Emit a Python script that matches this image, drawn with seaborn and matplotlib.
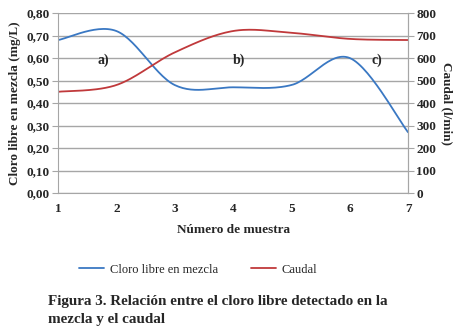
import numpy as np
import pandas as pd
import matplotlib
matplotlib.use("Agg")
import matplotlib.pyplot as plt
import seaborn as sns

# data
muestra = [1, 2, 3, 4, 5, 6, 7]
cloro = [0.68, 0.72, 0.48, 0.47, 0.48, 0.60, 0.27]
caudal = [450, 480, 625, 720, 712, 685, 680]
left_ticks = [0.0, 0.1, 0.2, 0.3, 0.4, 0.5, 0.6, 0.7, 0.8]
right_ticks = [0, 100, 200, 300, 400, 500, 600, 700, 800]
notes = ["a)", "b)", "c)"]
note_x = [1.78, 4.1, 6.47]


def smooth(x, y, n=30):
    # Excel-style smoothed line (Catmull-Rom / cubic Bezier through the points)
    x = np.asarray(x, float)
    y = np.asarray(y, float)
    px = np.r_[x[0], x, x[-1]]
    py = np.r_[y[0], y, y[-1]]
    xs, ys = [], []
    t = np.linspace(0, 1, n)
    for i in range(1, len(px) - 2):
        p0 = np.array([px[i], py[i]])
        p3 = np.array([px[i + 1], py[i + 1]])
        c1 = p0 + (np.array([px[i + 1], py[i + 1]]) - np.array([px[i - 1], py[i - 1]])) / 6
        c2 = p3 - (np.array([px[i + 2], py[i + 2]]) - np.array([px[i], py[i]])) / 6
        pts = ((1 - t)[:, None] ** 3 * p0 + 3 * ((1 - t) ** 2 * t)[:, None] * c1
               + 3 * ((1 - t) * t ** 2)[:, None] * c2 + (t ** 3)[:, None] * p3)
        xs.extend(pts[:, 0])
        ys.extend(pts[:, 1])
    return pd.DataFrame({"x": xs, "y": ys})


sns.set_style("white")
plt.rcParams["font.family"] = ["Liberation Serif", "DejaVu Serif"]
SERIF = "Liberation Serif"

fig = plt.figure(figsize=(4.57, 3.34), dpi=100)
ax = fig.add_axes([0.127, 0.422, 0.766, 0.539])
ax2 = ax.twinx()

blue = "#3a78c3"
red = "#c0393b"
grid_c = "#a6a6a6"

c1 = smooth(muestra, cloro)
c2 = smooth(muestra, [v / 1000 for v in caudal])
sns.lineplot(data=c1, x="x", y="y", ax=ax, color=blue, lw=1.3, sort=False,
             estimator=None, label="Cloro libre en mezcla", legend=False)
sns.lineplot(data=c2, x="x", y="y", ax=ax, color=red, lw=1.3, sort=False,
             estimator=None, label="Caudal", legend=False)

ax.set_xlim(1, 7)
ax.set_ylim(0, 0.8)
ax.set_yticks(left_ticks)
ax.set_yticklabels([f"{v:.2f}".replace(".", ",") for v in left_ticks],
                   fontsize=9.5, fontweight="bold", family=SERIF)
ax.set_xticks(muestra)
ax.set_xticklabels([str(m) for m in muestra], fontsize=9.5, fontweight="bold", family=SERIF)
ax.yaxis.grid(True, color=grid_c, lw=1)
ax.set_axisbelow(True)
ax.tick_params(axis="x", length=4, color=grid_c, pad=3)
ax.tick_params(axis="y", length=4, color=grid_c, pad=2)
ax.spines["top"].set_visible(False)
for s in ["left", "bottom", "right"]:
    ax.spines[s].set_color(grid_c)
ax.set_xlabel("Número de muestra", fontsize=9.5, fontweight="bold", labelpad=7, family=SERIF)
ax.set_ylabel("Cloro libre en mezcla (mg/L)", fontsize=9.5, fontweight="bold", labelpad=4,
              family=SERIF)

ax2.set_ylim(0, 800)
ax2.set_yticks(right_ticks)
ax2.set_yticklabels([str(v) for v in right_ticks], fontsize=9.5, fontweight="bold", family=SERIF)
ax2.tick_params(axis="y", length=4, color=grid_c, pad=2)
for s in ["top", "left", "bottom"]:
    ax2.spines[s].set_visible(False)
ax2.spines["right"].set_color(grid_c)
ax2.set_ylabel("Caudal (l/min)", fontsize=9.5, fontweight="bold", rotation=-90, labelpad=12,
               family=SERIF)

for t, xx in zip(notes, note_x):
    ax.text(xx, 0.59, t, fontsize=10, fontweight="bold", ha="center", va="center", family=SERIF)

ax.legend(loc="upper center", bbox_to_anchor=(0.4, -0.33), ncol=2, frameon=False,
          prop={"family": SERIF, "size": 9}, handlelength=2.0,
          columnspacing=2.6, handletextpad=0.5)

fig.text(0.105, 0.087, "Figura 3. Relación entre el cloro libre detectado en la",
         fontsize=10.9, fontweight="bold", family=SERIF)
fig.text(0.105, 0.032, "mezcla y el caudal", fontsize=10.9, fontweight="bold", family=SERIF)

fig.savefig("out.png", dpi=100)
